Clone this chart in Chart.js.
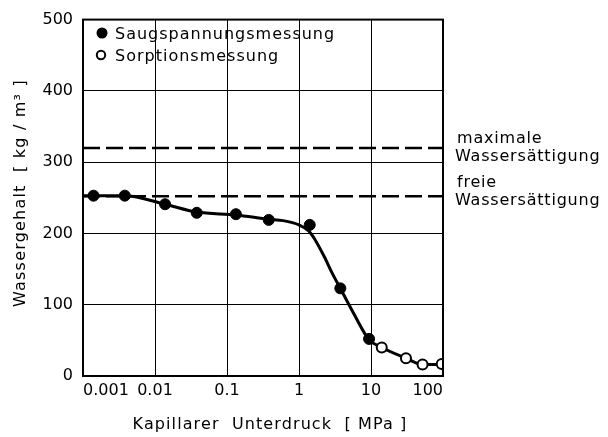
<!DOCTYPE html>
<html>
<head>
<meta charset="utf-8">
<script src="https://cdn.jsdelivr.net/npm/chart.js@4.4.1/dist/chart.umd.min.js"></script>
<style>
  html, body { margin: 0; padding: 0; background: #fff; }
  #wrap { width: 608px; height: 437px; position: relative; }
</style>
</head>
<body>
<div id="wrap"><canvas id="chart"></canvas></div>
<script>
const saugDruck = [0.0014, 0.0038, 0.0138, 0.038, 0.133, 0.38, 1.41, 3.75, 9.4];
const saugWasser = [253, 253, 241, 229, 227, 219, 212, 123, 52];
const sorpDruck = [14.1, 30.6, 52, 96];
const sorpWasser = [40, 25, 16, 17];

// ausgeglichene Kurve
const kurveDruck = [0.001, 0.0038, 0.0138, 0.038, 0.133, 0.38, 0.6, 1.0, 1.35, 1.63, 2.23, 2.9, 3.75, 5.8, 9.4, 14.1, 30.6, 52, 100];
const kurveWasser = [253, 253, 241, 230, 226, 220, 218, 212, 204, 193, 168, 144, 123, 87, 51, 40, 25, 16, 16];

const maxSaettigung = 320;
const freieSaettigung = 252;

const xTickWerte = [0.001, 0.01, 0.1, 1, 10, 100];
const xTickTexte = ['0.001', '0.01', '0.1', '1', '10', '100'];
const yTickWerte = [0, 100, 200, 300, 400, 500];

const FONT = '"DejaVu Sans", sans-serif';

const punkte = (xs, ys) => xs.map((x, i) => ({ x, y: ys[i] }));
const xMin = xTickWerte[0];
const xMax = xTickWerte[xTickWerte.length - 1];

const textPlugin = {
  id: 'texte',
  afterDraw(chart) {
    const ctx = chart.ctx;
    const area = chart.chartArea;
    const ys = chart.scales.y;
    ctx.save();

    // Rahmen
    ctx.strokeStyle = '#000';
    ctx.lineWidth = 2;
    ctx.strokeRect(area.left, area.top, area.right - area.left, area.bottom - area.top);

    ctx.fillStyle = '#000';
    ctx.font = '16px ' + FONT;
    ctx.textBaseline = 'alphabetic';
    ctx.letterSpacing = '1px';

    // Legende
    ctx.beginPath();
    ctx.arc(102, 33, 5.5, 0, Math.PI * 2);
    ctx.fill();
    ctx.fillText('Saugspannungsmessung', 115, 39);
    ctx.beginPath();
    ctx.arc(101, 55, 4.2, 0, Math.PI * 2);
    ctx.lineWidth = 2;
    ctx.stroke();
    ctx.fillText('Sorptionsmessung', 115, 61);

    // Beschriftung der Sättigungslinien
    ctx.letterSpacing = '0.8px';
    const yMax = ys.getPixelForValue(maxSaettigung);
    const yFrei = ys.getPixelForValue(freieSaettigung);
    ctx.fillText('maximale', 457, yMax - 5);
    ctx.fillText('Wassersättigung', 455, yMax + 13);
    ctx.fillText('freie', 457, yFrei - 9);
    ctx.fillText('Wassersättigung', 455, yFrei + 9);

    // Achsentitel
    ctx.letterSpacing = '1.1px';
    ctx.textAlign = 'center';
    ctx.fillText('Kapillarer  Unterdruck  [ MPa ]', 270, 429);

    ctx.save();
    ctx.translate(25, 193);
    ctx.rotate(-Math.PI / 2);
    ctx.letterSpacing = '1.2px';
    ctx.fillText('Wassergehalt  [ kg / m³ ]', 0, 0);
    ctx.restore();

    ctx.restore();
  }
};

new Chart(document.getElementById('chart'), {
  type: 'scatter',
  data: {
    datasets: [
      {
        label: 'Saugspannungsmessung',
        data: punkte(saugDruck, saugWasser),
        pointRadius: 5.5,
        pointBackgroundColor: '#000',
        pointBorderColor: '#000',
        pointBorderWidth: 1,
        showLine: false,
        order: 0
      },
      {
        label: 'Sorptionsmessung',
        data: punkte(sorpDruck, sorpWasser),
        pointRadius: 5,
        pointBackgroundColor: '#fff',
        pointBorderColor: '#000',
        pointBorderWidth: 2,
        showLine: false,
        order: 0
      },
      {
        label: 'Kurve',
        data: punkte(kurveDruck, kurveWasser),
        showLine: true,
        borderColor: '#000',
        borderWidth: 3,
        pointRadius: 0,
        cubicInterpolationMode: 'monotone',
        order: 1
      },
      {
        label: 'maximale Wassersättigung',
        data: [{ x: xMin, y: maxSaettigung }, { x: xMax, y: maxSaettigung }],
        showLine: true,
        borderColor: '#000',
        borderWidth: 2.5,
        borderDash: [17, 6],
        pointRadius: 0,
        order: 2
      },
      {
        label: 'freie Wassersättigung',
        data: [{ x: xMin, y: freieSaettigung }, { x: xMax, y: freieSaettigung }],
        showLine: true,
        borderColor: '#000',
        borderWidth: 2.5,
        borderDash: [17, 6],
        pointRadius: 0,
        order: 2
      }
    ]
  },
  options: {
    responsive: true,
    maintainAspectRatio: false,
    animation: false,
    layout: { padding: { left: 0, right: 165, top: 15, bottom: 0 } },
    plugins: {
      legend: { display: false },
      tooltip: { enabled: false }
    },
    scales: {
      x: {
        type: 'logarithmic',
        min: xMin,
        max: xMax,
        afterBuildTicks: (scale) => {
          scale.ticks = xTickWerte.map(v => ({ value: v }));
        },
        afterFit: (scale) => { scale.height = 61; },
        ticks: {
          color: '#000',
          font: { family: FONT, size: 16 },
          padding: 5,
          align: 'inner',
          maxRotation: 0,
          autoSkip: false,
          callback: (v) => {
            const i = xTickWerte.findIndex(t => Math.abs(Math.log10(t) - Math.log10(v)) < 1e-6);
            return i >= 0 ? xTickTexte[i] : '';
          }
        },
        grid: { color: '#000', lineWidth: 1, drawTicks: false },
        border: { display: false }
      },
      y: {
        min: yTickWerte[0],
        max: yTickWerte[yTickWerte.length - 1],
        afterBuildTicks: (scale) => {
          scale.ticks = yTickWerte.map(v => ({ value: v }));
        },
        afterFit: (scale) => { scale.width = 83; },
        ticks: {
          color: '#000',
          font: { family: FONT, size: 16 },
          padding: 10
        },
        grid: { color: '#000', lineWidth: 1, drawTicks: false },
        border: { display: false }
      }
    }
  },
  plugins: [textPlugin]
});
</script>
</body>
</html>
